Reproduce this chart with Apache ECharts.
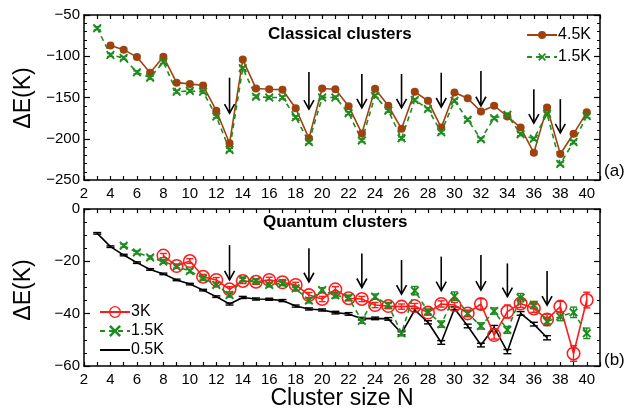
<!DOCTYPE html>
<html><head><meta charset="utf-8">
<script src="https://cdn.jsdelivr.net/npm/echarts@6/dist/echarts.min.js"></script>
<style>html,body{margin:0;padding:0;background:#fff}#c{width:634px;height:410px}</style>
</head><body><div id="c"></div>
<script>
// ---- Classical clusters (panel a) ----
const classicalSizes45 = [4,5,6,7,8,9,10,11,12,13,14,15,16,17,18,19,20,21,22,23,24,25,26,27,28,29,30,31,32,33,34,35,36,37,38,39,40];
const classical45 = [-87,-92,-101,-120,-100.5,-132,-133.5,-135.5,-166,-205.5,-104,-139,-140,-140.5,-163,-199.5,-139,-140,-160.5,-193.5,-139.5,-160,-188,-143,-154,-186.5,-144,-151,-167,-160,-173,-186.5,-217,-162,-218.5,-194,-168];
const classicalSizes15 = [3,4,5,6,7,8,9,10,11,12,13,14,15,16,17,18,19,20,21,22,23,24,25,26,27,28,29,30,31,32,33,34,35,36,37,38,39,40];
const classical15 = [-66,-98.5,-102,-119.5,-126,-107,-143,-142,-143,-173,-213.5,-114.5,-149,-150,-150,-174,-204,-150,-150,-169,-202,-148,-166,-199.5,-153,-164,-192,-154,-177,-200.5,-175,-171,-194.5,-200,-170,-230.5,-204,-172.5];
const classicalErr = 1.8;
const arrowsTopN = [13,19,23,26,29,32,36,38];
const arrowsTopFrom = [-126,-119,-121.5,-121.5,-120,-118,-140,-152];
const arrowsTopTo = [-169,-164,-162.5,-162.5,-161.5,-160,-181,-193];

// ---- Quantum clusters (panel b) ----
const quantumSizes05 = [3,4,5,6,7,8,9,10,11,12,13,14,15,16,17,18,19,20,21,22,23,24,25,26,27,28,29,30,31,32,33,34,35,36,37];
const quantum05 = [-9.3,-14.4,-17.6,-20.5,-23.1,-24.8,-27.1,-28.7,-31,-33.5,-36.3,-33.8,-34.4,-34.5,-35,-37.1,-38.2,-38.6,-39.6,-40.1,-41.9,-41.8,-42,-47.5,-38.6,-43.3,-51,-38,-44.7,-52,-45.2,-54.5,-39.9,-44,-49.2];
const quantum05Err = [0.3,0.3,0.3,0.3,0.3,0.3,0.3,0.3,0.3,0.3,0.4,0.4,0.4,0.4,0.4,0.4,0.4,0.4,0.5,0.5,0.5,0.5,0.5,0.6,0.6,0.6,0.7,0.6,0.7,0.7,0.7,0.8,0.7,0.7,0.8];
const quantumSizes15 = [5,6,7,8,9,10,11,12,13,14,15,16,17,18,19,20,21,22,23,24,25,26,27,28,29,30,31,32,33,34,35,36,37,38,39,40];
const quantum15 = [-14,-16.6,-18.5,-20.1,-22,-23.7,-26.5,-29,-32.9,-26.8,-27.5,-29,-28.4,-30.3,-35,-31,-33,-33.9,-42.7,-33.5,-36.7,-47.5,-31.2,-39.2,-44,-33.3,-39.9,-44.7,-39,-46.2,-33.9,-36.7,-43,-41.1,-39.5,-47.5];
const quantum15Err = [0.6,0.6,0.6,0.7,0.7,0.7,0.8,0.8,0.8,0.8,0.8,0.8,0.9,0.9,0.9,0.9,1,1,1,1,1,1,1.6,1,1.2,1.6,1.2,1.2,1.2,1.3,1.6,1.4,1.6,1.6,2,2];
const quantumSizes3 = [8,9,10,11,12,13,14,15,16,17,18,19,20,21,22,23,24,25,26,27,28,29,30,31,32,33,34,35,36,37,38,39,40];
const quantum3 = [-17.8,-21.8,-19.9,-25.9,-27.1,-30.7,-27.5,-27.8,-27.1,-28,-29,-32.9,-34.4,-30.7,-34.1,-34.4,-36.7,-37.1,-37.3,-37.1,-39.6,-36.3,-36.7,-39.9,-36.3,-48.2,-39.2,-36.1,-38,-42.2,-37.3,-55.2,-34.8];
const quantum3Err = [0.8,0.8,0.9,0.9,0.9,1,1,1,1,1,1,1,1,1,1,1,1,1,1,1,1,1.2,1,1.2,2,1.5,2.5,1.5,1.5,2,2,3,3];
const arrowsBotN = [13,19,23,26,29,32,34,37];
const arrowsBotFrom = [-13.8,-15,-17,-19.5,-18.2,-17.6,-20.8,-23.7];
const arrowsBotTo = [-27.1,-27.8,-30,-32.5,-31.2,-31,-33.5,-36.7];

const xTickLabels = [2,4,6,8,10,12,14,16,18,20,22,24,26,28,30,32,34,36,38,40];
const yTicksTop = [-50,-100,-150,-200,-250];
const yTicksBot = [0,-20,-40,-60];

const BROWN = '#a0420f', GREEN = '#1e8c1e', RED = '#ff1a1a', BLACK = '#000';
const FONT = 'Liberation Sans, Arial, Helvetica, sans-serif';
const X_PATH = 'path://M1.5,0 L5,3.5 L8.5,0 L10,1.5 L6.5,5 L10,8.5 L8.5,10 L5,6.5 L1.5,10 L0,8.5 L3.5,5 L0,1.5 Z';
const RING_PATH = 'path://M10,5 A5,5 0 1,1 0,5 A5,5 0 1,1 10,5 Z M8.9,5 A3.9,3.9 0 1,0 1.1,5 A3.9,3.9 0 1,0 8.9,5 Z';

function pairs(xs, ys) { return xs.map((x, i) => [x, ys[i]]); }
function triples(xs, ys, es) { return xs.map((x, i) => [x, ys[i], Array.isArray(es) ? es[i] : es]); }

function errSeries(axisIdx, xs, ys, es, color, capW) {
  return {
    type: 'custom', xAxisIndex: axisIdx, yAxisIndex: axisIdx, z: 3, silent: true,
    data: triples(xs, ys, es),
    renderItem: function (params, api) {
      const x = api.value(0), y = api.value(1), e = api.value(2);
      const a = api.coord([x, y + e]), b = api.coord([x, y - e]);
      const st = { stroke: color, lineWidth: 1.4 };
      return { type: 'group', children: [
        { type: 'line', shape: { x1: a[0], y1: a[1], x2: b[0], y2: b[1] }, style: st },
        { type: 'line', shape: { x1: a[0] - capW, y1: a[1], x2: a[0] + capW, y2: a[1] }, style: st },
        { type: 'line', shape: { x1: b[0] - capW, y1: b[1], x2: b[0] + capW, y2: b[1] }, style: st }
      ]};
    }
  };
}
function arrowSeries(axisIdx, ns, from, to) {
  return {
    type: 'custom', xAxisIndex: axisIdx, yAxisIndex: axisIdx, z: 6, silent: true,
    data: ns.map((n, i) => [n, from[i], to[i]]),
    renderItem: function (params, api) {
      const a = api.coord([api.value(0), api.value(1)]), b = api.coord([api.value(0), api.value(2)]);
      const st = { stroke: '#000', lineWidth: 1.6, fill: null };
      return { type: 'group', children: [
        { type: 'line', shape: { x1: a[0], y1: a[1], x2: b[0], y2: b[1] }, style: st },
        { type: 'polyline', shape: { points: [[b[0] - 5, b[1] - 9], [b[0], b[1]], [b[0] + 5, b[1] - 9]] }, style: st }
      ]};
    }
  };
}

function xAxes(gi) {
  const base = {
    type: 'value', gridIndex: gi, min: 2, max: 41, interval: 1,
    axisLine: { show: true, onZero: false, lineStyle: { color: '#000', width: 1.5 } },
    axisTick: { show: true, inside: true, length: 4, lineStyle: { color: '#000', width: 1.2 } },
    splitLine: { show: false }
  };
  return [
    Object.assign({}, base, { position: 'bottom', axisLabel: { show: true, color: '#000', fontSize: 15, fontFamily: FONT, margin: 6,
      formatter: v => (xTickLabels.indexOf(v) >= 0 ? String(v) : '') } }),
    Object.assign({}, base, { position: 'top', axisLabel: { show: false } })
  ];
}
function yAxes(gi, min, max, interval, ticks, split) {
  const base = {
    type: 'value', gridIndex: gi, min: min, max: max, interval: interval,
    axisLine: { show: true, onZero: false, lineStyle: { color: '#000', width: 1.5 } },
    axisTick: { show: true, inside: true, length: 6, lineStyle: { color: '#000', width: 1.2 } },
    minorTick: { show: true, splitNumber: split, length: 3, lineStyle: { color: '#000', width: 1 } },
    splitLine: { show: false }
  };
  return [
    Object.assign({}, base, { position: 'left', axisLabel: { show: true, color: '#000', fontSize: 15, fontFamily: FONT, margin: 4,
      formatter: v => (ticks.indexOf(v) >= 0 ? String(v).replace('-', '\u2212') : '') } }),
    Object.assign({}, base, { position: 'right', axisLabel: { show: false } })
  ];
}

const xa0 = xAxes(0), xa1 = xAxes(1);
const ya0 = yAxes(0, -250, -50, 50, yTicksTop, 5), ya1 = yAxes(1, -60, 0, 20, yTicksBot, 4);
const xAxis = [xa0[0], xa0[1], xa1[0], xa1[1]];
const yAxis = [ya0[0], ya0[1], ya1[0], ya1[1]];
// grid 0 -> axis index 0 ; grid 1 -> axis index 2
const A0 = 0, A1 = 2;

const series = [
  errSeries(A0, classicalSizes45, classical45, classicalErr, BROWN, 3.5),
  errSeries(A0, classicalSizes15, classical15, classicalErr, GREEN, 3.5),
  { type: 'line', name: '4.5K', xAxisIndex: A0, yAxisIndex: A0, data: pairs(classicalSizes45, classical45), symbol: 'circle', symbolSize: 8,
    lineStyle: { color: BROWN, width: 1.6 }, itemStyle: { color: BROWN }, z: 4 },
  { type: 'line', name: '1.5K', xAxisIndex: A0, yAxisIndex: A0, data: pairs(classicalSizes15, classical15), symbol: X_PATH, symbolSize: 9,
    lineStyle: { color: GREEN, width: 1.6, type: [5, 4] }, itemStyle: { color: GREEN }, z: 4 },
  arrowSeries(A0, arrowsTopN, arrowsTopFrom, arrowsTopTo),

  errSeries(A1, quantumSizes05, quantum05, quantum05Err, BLACK, 4),
  errSeries(A1, quantumSizes15, quantum15, quantum15Err, GREEN, 3.5),
  errSeries(A1, quantumSizes3, quantum3, quantum3Err, RED, 3.5),
  { type: 'line', name: '3K', xAxisIndex: A1, yAxisIndex: A1, data: pairs(quantumSizes3, quantum3), symbol: RING_PATH, symbolSize: 14,
    lineStyle: { color: RED, width: 1.6 }, itemStyle: { color: RED }, z: 4 },
  { type: 'line', name: '1.5K ', xAxisIndex: A1, yAxisIndex: A1, data: pairs(quantumSizes15, quantum15), symbol: X_PATH, symbolSize: 9,
    lineStyle: { color: GREEN, width: 1.6, type: [5, 4] }, itemStyle: { color: GREEN }, z: 5 },
  { type: 'line', name: '0.5K', xAxisIndex: A1, yAxisIndex: A1, data: pairs(quantumSizes05, quantum05), symbol: 'none',
    lineStyle: { color: BLACK, width: 1.6 }, itemStyle: { color: BLACK }, z: 4 },
  arrowSeries(A1, arrowsBotN, arrowsBotFrom, arrowsBotTo)
];

const chart = echarts.init(document.getElementById('c'), null, { renderer: 'canvas' });
chart.setOption({
  animation: false,
  backgroundColor: '#fff',
  textStyle: { fontFamily: FONT },
  grid: [
    { left: 84, top: 15, width: 516, height: 165 },
    { left: 84, top: 209, width: 516, height: 157 }
  ],
  xAxis: xAxis,
  yAxis: yAxis,
  legend: [
    { data: ['4.5K', '1.5K'], orient: 'vertical', right: 38, top: 22, itemWidth: 30, itemHeight: 10, itemGap: 6,
      textStyle: { fontSize: 16, color: '#000', fontFamily: FONT, padding: [0, 0, 0, -4] }, selectedMode: false },
    { data: [{ name: '3K', itemStyle: { color: RED } }, '1.5K ', { name: '0.5K', itemStyle: { opacity: 0 } }], orient: 'vertical', left: 94, top: 299, itemWidth: 30, itemHeight: 15, itemGap: 3,
      textStyle: { fontSize: 16, color: '#000', fontFamily: FONT, padding: [0, 0, 0, -4] }, selectedMode: false,
      formatter: n => n.trim() }
  ],
  graphic: [
    { type: 'text', left: 268, top: 26, style: { text: 'Classical clusters', font: 'bold 17px ' + FONT, fill: '#000' } },
    { type: 'text', left: 263, top: 214, style: { text: 'Quantum clusters', font: 'bold 17px ' + FONT, fill: '#000' } },
    { type: 'text', left: 604, top: 163, style: { text: '(a)', font: '17px ' + FONT, fill: '#000' } },
    { type: 'text', left: 604, top: 352, style: { text: '(b)', font: '17px ' + FONT, fill: '#000' } },
    { type: 'text', x: 24, y: 98, rotation: Math.PI / 2, style: { text: '\u0394E(K)', font: '23px ' + FONT, fill: '#000', align: 'center', verticalAlign: 'middle' } },
    { type: 'text', x: 24, y: 290, rotation: Math.PI / 2, style: { text: '\u0394E(K)', font: '23px ' + FONT, fill: '#000', align: 'center', verticalAlign: 'middle' } },
    { type: 'text', x: 342, y: 399, style: { text: 'Cluster size N', font: '23px ' + FONT, fill: '#000', align: 'center', verticalAlign: 'middle' } }
  ],
  series: series
});
</script></body></html>
